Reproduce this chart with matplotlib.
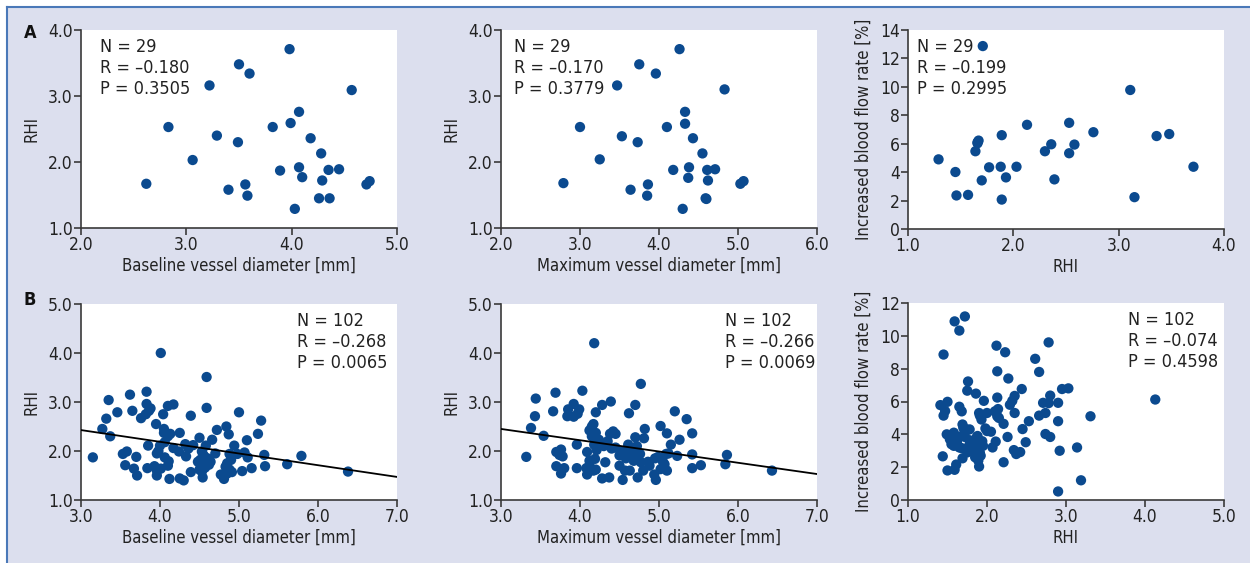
import numpy as np
import matplotlib
matplotlib.use("Agg")
import matplotlib.pyplot as plt
from matplotlib import font_manager as fm
from matplotlib.lines import Line2D
from matplotlib.patches import Rectangle

# pick a narrow sans if one is installed
names = {f.name for f in fm.fontManager.ttflist}
files = [f.fname for f in fm.fontManager.ttflist]
if 'Liberation Sans Narrow' in names:
    plt.rcParams['font.family'] = ['Liberation Sans Narrow', 'DejaVu Sans']
elif any('DejaVuSansCondensed' in f for f in files):
    plt.rcParams['font.family'] = ['DejaVu Sans']
    plt.rcParams['font.stretch'] = 'condensed'
else:
    plt.rcParams['font.family'] = ['Liberation Sans', 'DejaVu Sans']

# ---- data: group A (N = 29) ----
a_base = [2.62, 2.83, 3.06, 3.22, 3.29, 3.40, 3.49, 3.50, 3.56, 3.58, 3.60, 3.82, 3.89,
          3.98, 3.99, 4.03, 4.07, 4.07, 4.10, 4.18, 4.26, 4.28, 4.29, 4.35, 4.36, 4.45,
          4.57, 4.71, 4.74]
a_rhi = [1.67, 2.53, 2.03, 3.16, 2.40, 1.58, 2.30, 3.48, 1.66, 1.49, 3.34, 2.53, 1.87,
         3.71, 2.59, 1.29, 2.76, 1.92, 1.77, 2.36, 1.45, 2.13, 1.72, 1.88, 1.45, 1.89,
         3.09, 1.66, 1.71]

a_max = [2.79, 3.00, 3.25, 3.47, 3.53, 3.64, 3.73, 3.75, 3.86, 3.85, 3.96, 4.10, 4.18,
         4.26, 4.33, 4.30, 4.33, 4.38, 4.37, 4.43, 4.59, 4.55, 4.62, 4.61, 4.60, 4.71,
         4.83, 5.03, 5.07]
a_rhi2 = [1.68, 2.53, 2.04, 3.16, 2.39, 1.58, 2.30, 3.48, 1.66, 1.49, 3.34, 2.53, 1.88,
          3.71, 2.58, 1.29, 2.76, 1.92, 1.76, 2.36, 1.45, 2.13, 1.72, 1.88, 1.44, 1.89,
          3.10, 1.67, 1.71]

a3_rhi = [1.29, 1.45, 1.46, 1.57, 1.64, 1.66, 1.67, 1.70, 1.71, 1.77, 1.88, 1.89, 1.89,
          1.93, 2.03, 2.13, 2.30, 2.36, 2.39, 2.53, 2.53, 2.58, 2.76, 3.11, 3.15, 3.36,
          3.48, 3.71, 1.66]
a3_flow = [4.90, 4.01, 2.36, 2.40, 5.47, 6.03, 6.22, 3.42, 12.87, 4.34, 4.38, 2.07, 6.60,
           3.63, 4.38, 7.33, 5.47, 5.96, 3.49, 5.33, 7.47, 5.94, 6.81, 9.78, 2.24, 6.54,
           6.68, 4.38, 6.10]

# ---- data: group B (N = 102) ----
b_base = [3.15, 3.27, 3.32, 3.35, 3.37, 3.46, 3.53, 3.56, 3.58, 3.62, 3.65, 3.67, 3.70,
          3.71, 3.76, 3.82, 3.83, 3.83, 3.84, 3.85, 3.88, 3.93, 3.95, 3.96, 3.96, 4.01,
          4.00, 4.01, 4.04, 4.05, 4.05, 4.06, 4.10, 4.11, 4.12, 4.13, 4.17, 4.17, 4.24,
          4.25, 4.25, 4.30, 4.32, 4.33, 4.39, 4.39, 4.42, 4.50, 4.51, 4.53, 4.53, 4.54,
          4.56, 4.58, 4.59, 4.59, 4.61, 4.64, 4.66, 4.72, 4.77, 4.81, 4.84, 4.85, 4.87,
          4.88, 4.90, 4.91, 4.94, 4.98, 5.00, 5.04, 5.07, 5.10, 5.11, 5.16, 5.24, 5.28,
          5.32, 5.33, 5.61, 5.79, 6.38,
          4.48, 4.52, 4.55, 4.60, 4.50, 4.57, 4.62, 4.85, 4.88, 4.83, 4.90, 4.10, 4.06,
          3.86, 3.98, 3.96, 4.10, 4.36, 4.70]
b_rhi = [1.87, 2.45, 2.66, 3.04, 2.30, 2.79, 1.94, 1.71, 1.99, 3.15, 2.82, 1.64, 1.88,
         1.50, 2.67, 2.75, 3.21, 2.96, 1.65, 2.11, 2.87, 1.69, 2.55, 1.50, 1.95, 4.00,
         2.11, 1.64, 2.75, 2.45, 2.37, 1.87, 2.92, 1.79, 1.43, 2.35, 2.95, 2.06, 1.99,
         2.37, 1.44, 1.40, 2.14, 1.89, 1.57, 2.72, 2.12, 2.27, 1.82, 1.99, 1.58, 1.46,
         1.75, 2.11, 3.51, 2.88, 1.84, 1.78, 2.23, 2.43, 1.52, 1.43, 2.50, 1.54, 2.34,
         1.94, 1.82, 1.57, 2.11, 1.94, 2.79, 1.59, 1.97, 2.22, 1.87, 1.65, 2.35, 2.62,
         1.92, 1.69, 1.73, 1.90, 1.58,
         1.78, 1.70, 1.92, 1.85, 1.62, 1.66, 1.72, 1.75, 1.62, 1.68, 1.90, 2.30, 2.18,
         2.82, 2.00, 1.60, 1.70, 2.05, 1.95]
b1_fit = (3.144, -0.239)  # intercept, slope of drawn regression line

b_max = [3.32, 3.38, 3.43, 3.44, 3.54, 3.66, 3.69, 3.70, 3.70, 3.76, 3.78, 3.76, 3.80,
         3.84, 3.85, 3.92, 3.96, 3.96, 3.97, 3.99, 4.03, 4.09, 4.09, 4.12, 4.15, 4.17,
         4.18, 4.17, 4.18, 4.19, 4.20, 4.20, 4.21, 4.24, 4.28, 4.28, 4.32, 4.37, 4.39,
         4.38, 4.42, 4.45, 4.45, 4.50, 4.54, 4.57, 4.61, 4.63, 4.63, 4.62, 4.70, 4.70,
         4.72, 4.73, 4.77, 4.76, 4.77, 4.81, 4.82, 4.86, 4.94, 4.96, 4.99, 5.02, 5.02,
         5.07, 5.10, 5.10, 5.09, 5.15, 5.20, 5.23, 5.26, 5.35, 5.42, 5.42, 5.42, 5.53,
         5.84, 5.86, 6.43,
         4.35, 4.40, 4.12, 4.15, 4.62, 4.66, 4.58, 4.68, 4.08, 4.12, 3.74, 3.92, 4.88,
         4.95, 5.05, 5.12, 4.50, 4.80, 4.30, 4.55, 4.20]
b_rhi3 = [1.88, 2.47, 2.71, 3.07, 2.31, 2.81, 3.19, 1.98, 1.69, 2.03, 1.89, 1.54, 1.65,
          2.71, 2.85, 2.96, 2.13, 1.65, 2.76, 2.85, 3.23, 1.98, 1.52, 1.71, 2.50, 2.55,
          4.20, 1.60, 2.13, 1.84, 2.79, 2.37, 2.02, 2.23, 2.94, 1.44, 1.77, 1.46, 3.01,
          2.35, 2.40, 2.35, 2.07, 1.91, 1.41, 1.60, 2.13, 1.88, 1.60, 2.77, 2.94, 2.28,
          2.10, 1.46, 3.37, 1.94, 1.77, 2.26, 2.45, 1.78, 1.52, 1.41, 1.88, 2.51, 1.63,
          1.73, 1.60, 2.36, 1.94, 2.13, 2.81, 1.90, 2.23, 2.65, 2.36, 1.93, 1.65, 1.71,
          1.73, 1.92, 1.60,
          2.20, 2.05, 2.42, 2.30, 2.05, 1.95, 1.85, 1.80, 1.65, 1.80, 1.92, 2.70, 1.70,
          1.85, 1.78, 1.95, 1.70, 1.60, 2.10, 2.00, 1.62]
b2_fit = (3.14, -0.23)

b3_rhi = [1.41, 1.44, 1.45, 1.45, 1.47, 1.50, 1.49, 1.50, 1.53, 1.55, 1.58, 1.59, 1.59,
          1.61, 1.62, 1.65, 1.65, 1.68, 1.68, 1.69, 1.69, 1.72, 1.72, 1.74, 1.75, 1.76,
          1.78, 1.78, 1.80, 1.82, 1.86, 1.87, 1.88, 1.89, 1.90, 1.91, 1.91, 1.93, 1.94,
          1.96, 1.98, 2.00, 2.05, 2.07, 2.10, 2.11, 2.12, 2.13, 2.13, 2.14, 2.13, 2.21,
          2.21, 2.23, 2.26, 2.27, 2.29, 2.32, 2.35, 2.35, 2.34, 2.37, 2.42, 2.44, 2.45,
          2.49, 2.53, 2.61, 2.66, 2.66, 2.71, 2.74, 2.74, 2.78, 2.78, 2.80, 2.80, 2.90,
          2.90, 2.90, 2.92, 2.95, 3.03, 3.14, 3.19, 3.31, 4.13,
          1.55, 1.60, 1.68, 1.72, 1.78, 1.82, 1.85, 1.92, 1.95, 1.88, 1.65, 1.75, 1.58,
          1.70, 2.00, 1.90, 2.15]
b3_flow = [5.78, 2.66, 8.86, 5.14, 5.42, 5.98, 4.00, 1.80, 3.70, 3.40, 4.10, 10.88, 1.84,
           2.16, 3.54, 10.32, 5.68, 5.40, 3.16, 2.54, 4.60, 3.84, 11.18, 4.30, 6.66, 7.22,
           3.64, 4.30, 3.00, 3.20, 6.48, 3.82, 3.36, 2.40, 2.04, 5.14, 2.88, 4.90, 3.58,
           6.04, 4.36, 5.30, 4.16, 3.20, 5.40, 3.56, 9.40, 7.84, 6.24, 5.54, 5.10, 4.64,
           2.30, 9.00, 3.84, 7.40, 5.80, 6.04, 5.30, 6.34, 3.04, 2.80, 2.92, 6.76, 4.32,
           3.52, 4.80, 8.60, 7.80, 5.14, 5.92, 5.30, 4.02, 5.90, 9.60, 6.36, 3.84, 5.92,
           4.80, 0.52, 3.00, 6.76, 6.80, 3.20, 1.20, 5.10, 6.12,
           3.90, 3.60, 3.90, 4.10, 3.40, 3.00, 2.60, 2.70, 3.30, 3.90, 3.20, 2.90, 3.30,
           4.40, 4.20, 5.30, 5.00]

stats_a = [("29", "0.180", "0.3505"), ("29", "0.170", "0.3779"), ("29", "0.199", "0.2995")]
stats_b = [("102", "0.268", "0.0065"), ("102", "0.266", "0.0069"), ("102", "0.074", "0.4598")]

dot = '#0b4a8f'
bg = '#dcdfee'
spine = '#3a3a3a'

fig = plt.figure(figsize=(12.5, 5.63), dpi=100)
fig.patch.set_facecolor('white')
W, H = 1250, 563
fig.patches.append(Rectangle((7 / W, 0), 1, 1 - 7 / H, transform=fig.transFigure,
                             facecolor=bg, edgecolor='none', zorder=-10))
fig.lines.append(Line2D([7 / W, 1], [1 - 7 / H, 1 - 7 / H], transform=fig.transFigure,
                        color='#4a78b8', lw=1.5))
fig.lines.append(Line2D([7 / W, 7 / W], [0, 1 - 7 / H], transform=fig.transFigure,
                        color='#4a78b8', lw=1.5))


def make_ax(left, top, bottom):
    return fig.add_axes([left / W, 1 - bottom / H, 316 / W, (bottom - top) / H])


def style(ax, xlim, xticks, ylim, yticks, xlabel, ylabel, yfmt):
    ax.set_facecolor('white')
    ax.set_xlim(xlim)
    ax.set_ylim(ylim)
    ax.set_xticks(xticks)
    ax.set_yticks(yticks)
    ax.set_xticklabels([f"{t:.1f}" for t in xticks])
    ax.set_yticklabels([yfmt.format(t) for t in yticks])
    for s in ['top', 'right']:
        ax.spines[s].set_visible(False)
    for s in ['left', 'bottom']:
        ax.spines[s].set_color(spine)
        ax.spines[s].set_linewidth(1.2)
    ax.tick_params(direction='out', length=5, width=1.2, color=spine,
                   labelsize=12.5, labelcolor='#222222', pad=1)
    ax.set_xlabel(xlabel, fontsize=12, color='#222222', labelpad=2)
    ax.set_ylabel(ylabel, fontsize=12, color='#222222', labelpad=5)


def stat_text(ax, st, x):
    ax.text(x, 0.96, f"N = {st[0]}\nR = \u2013{st[1]}\nP = {st[2]}", transform=ax.transAxes,
            ha='left', va='top', fontsize=13, color='#222222', linespacing=1.22)


ax1 = make_ax(81, 30, 228)
ax1.scatter(a_base, a_rhi, s=55, color=dot, edgecolors='none', zorder=3, clip_on=False)
style(ax1, (2, 5), [2.0, 3.0, 4.0, 5.0], (1, 4), [1.0, 2.0, 3.0, 4.0],
      "Baseline vessel diameter [mm]", "RHI", "{:.1f}")
stat_text(ax1, stats_a[0], 0.06)

ax2 = make_ax(501, 30, 228)
ax2.scatter(a_max, a_rhi2, s=55, color=dot, edgecolors='none', zorder=3, clip_on=False)
style(ax2, (2, 6), [2.0, 3.0, 4.0, 5.0, 6.0], (1, 4), [1.0, 2.0, 3.0, 4.0],
      "Maximum vessel diameter [mm]", "RHI", "{:.1f}")
stat_text(ax2, stats_a[1], 0.04)

ax3 = make_ax(908, 30, 229)
ax3.scatter(a3_rhi, a3_flow, s=55, color=dot, edgecolors='none', zorder=3, clip_on=False)
style(ax3, (1, 4), [1.0, 2.0, 3.0, 4.0], (0, 14), list(range(0, 15, 2)),
      "RHI", "Increased blood flow rate [%]", "{:.0f}")
stat_text(ax3, stats_a[2], 0.03)

ax4 = make_ax(81, 304, 500)
ax4.scatter(b_base, b_rhi, s=55, color=dot, edgecolors='none', zorder=3, clip_on=False)
xx = np.array([3.0, 7.0])
ax4.plot(xx, b1_fit[0] + b1_fit[1] * xx, color='black', lw=1.3, zorder=4)
style(ax4, (3, 7), [3.0, 4.0, 5.0, 6.0, 7.0], (1, 5), [1.0, 2.0, 3.0, 4.0, 5.0],
      "Baseline vessel diameter [mm]", "RHI", "{:.1f}")
stat_text(ax4, stats_b[0], 0.683)

ax5 = make_ax(501, 304, 500)
ax5.scatter(b_max, b_rhi3, s=55, color=dot, edgecolors='none', zorder=3, clip_on=False)
ax5.plot(xx, b2_fit[0] + b2_fit[1] * xx, color='black', lw=1.3, zorder=4)
style(ax5, (3, 7), [3.0, 4.0, 5.0, 6.0, 7.0], (1, 5), [1.0, 2.0, 3.0, 4.0, 5.0],
      "Maximum vessel diameter [mm]", "RHI", "{:.1f}")
stat_text(ax5, stats_b[1], 0.709)

ax6 = make_ax(908, 303, 500)
ax6.scatter(b3_rhi, b3_flow, s=55, color=dot, edgecolors='none', zorder=3, clip_on=False)
style(ax6, (1, 5), [1.0, 2.0, 3.0, 4.0, 5.0], (0, 12), list(range(0, 13, 2)),
      "RHI", "Increased blood flow rate [%]", "{:.0f}")
stat_text(ax6, stats_b[2], 0.696)

fig.text(24 / W, 1 - 33 / H, "A", fontsize=13, fontweight='bold', va='center', color='#111111')
fig.text(24 / W, 1 - 300 / H, "B", fontsize=13, fontweight='bold', va='center', color='#111111')

fig.savefig("out.png", dpi=100)
